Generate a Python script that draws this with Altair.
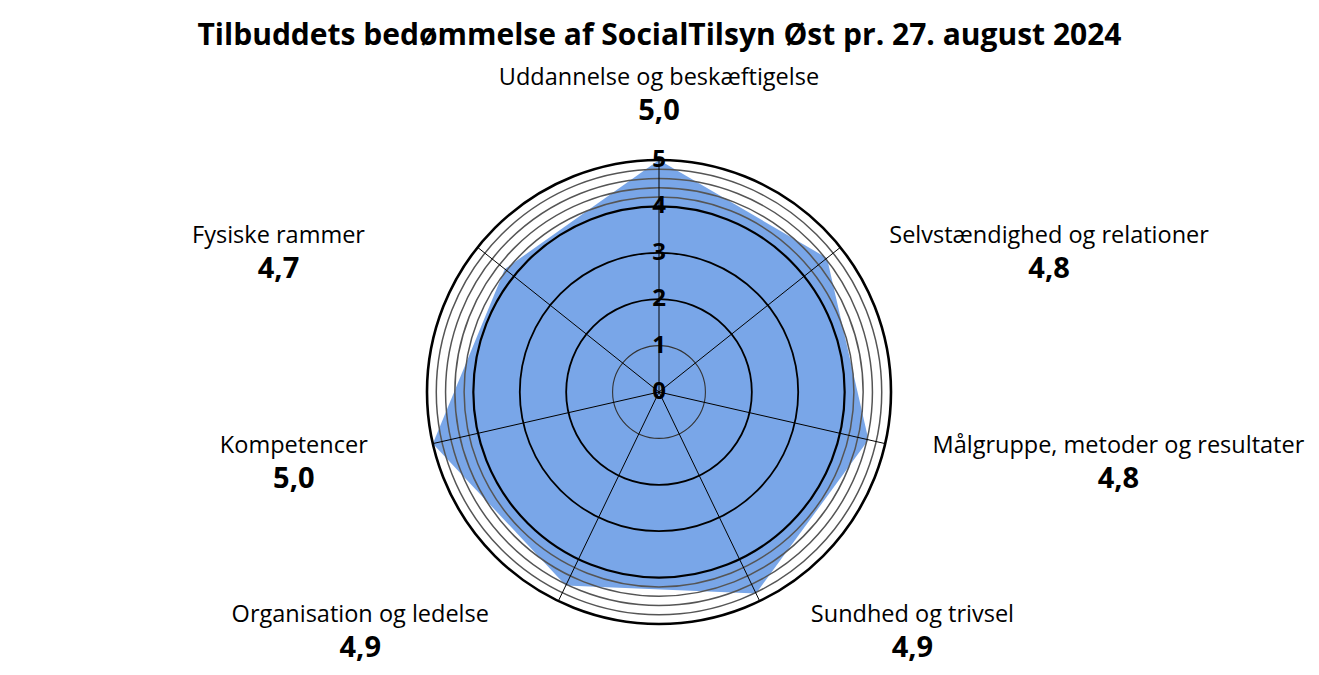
import math
import altair as alt
import pandas as pd

# ---------------- data ----------------
categories = [
    "Uddannelse og beskæftigelse",
    "Selvstændighed og relationer",
    "Målgruppe, metoder og resultater",
    "Sundhed og trivsel",
    "Organisation og ledelse",
    "Kompetencer",
    "Fysiske rammer",
]
score_labels = ["5,0", "4,8", "4,8", "4,9", "4,9", "5,0", "4,7"]
# radial extent of the shaded area as drawn in the picture
polygon_values = [5.0, 4.63, 4.63, 4.82, 4.63, 5.0, 4.25]
ring_major = [1, 2, 3, 4, 5]
ring_minor = [4.2, 4.4, 4.6, 4.8]
tick_values = [0, 1, 2, 3, 4, 5]
tick_labels = ["0", "1", "2", "3", "4", "5"]
title = "Tilbuddets bedømmelse af SocialTilsyn Øst pr. 27. august 2024"

# ---------------- layout / style ----------------
FONT = "Open Sans"
PX = 46.4              # pixels per score unit
RMAX = 5
W = 1303
PT = 55
H = 659 - PT
CXV = 651              # centre in view coords
CYV = 392 - 8 - PT
LABEL_SIZE = 23.5
VALUE_SIZE = 29
FILL = "#79a6e8"

xs = alt.Scale(domain=[-CXV / PX, (W - CXV) / PX], nice=False, zero=False)
ys = alt.Scale(domain=[-(H - CYV) / PX, CYV / PX], nice=False, zero=False)
rs = alt.Scale(type="linear", domain=[0, RMAX], range=[0, RMAX * PX], zero=True, nice=False)

n = len(categories)
ang = [2 * math.pi * i / n for i in range(n)]

# approximate Open Sans advance widths (em)
W_EM = {" ": .26, ",": .25, ".": .27, "a": .556, "b": .613, "c": .48, "d": .613, "e": .561,
        "f": .336, "g": .55, "h": .613, "i": .258, "j": .258, "k": .53, "l": .258, "m": .93,
        "n": .613, "o": .602, "p": .613, "r": .408, "s": .479, "t": .353, "u": .613, "v": .5,
        "y": .5, "æ": .86, "ø": .602, "å": .556, "U": .733, "S": .55, "M": .9, "O": .78,
        "K": .6, "F": .55}


def text_w(s, size):
    return sum(W_EM.get(ch, 0.56) for ch in s) * size


R = RMAX * PX
lab_x, lab_y, val_y = [], [], []
for i, a in enumerate(ang):
    sx, cy = math.sin(a), math.cos(a)
    if abs(sx) < 1e-6:
        cx_px = 0.0
        cb = -(R + 34 + 32) * (1 if cy > 0 else -1)
    else:
        gap = 54 if sx > 0 else 72 + 73 * max(cy, 0)
        edge = (R - 7) * abs(sx) + gap
        cx_px = math.copysign(edge + text_w(categories[i], LABEL_SIZE) / 2, sx)
        cb = -(R + 16.4) * cy + 15.2
    lab_x.append(cx_px / PX)
    lab_y.append(-(cb - 16) / PX)
    val_y.append(-(cb + 17) / PX)

poly = pd.DataFrame({
    "idx": list(range(n + 1)),
    "x": [polygon_values[i % n] * math.sin(ang[i % n]) for i in range(n + 1)],
    "y": [polygon_values[i % n] * math.cos(ang[i % n]) for i in range(n + 1)],
})
spokes = pd.DataFrame({
    "x": [0.0] * n, "y": [0.0] * n,
    "x2": [RMAX * math.sin(a) for a in ang],
    "y2": [RMAX * math.cos(a) for a in ang],
})
rings_maj = pd.DataFrame({"r": ring_major, "cx": 0.0, "cy": 0.0})
rings_min = pd.DataFrame({"r": ring_minor, "cx": 0.0, "cy": 0.0})
ticks = pd.DataFrame({"x": 0.0, "y": tick_values, "t": tick_labels})
labels = pd.DataFrame({"x": lab_x, "y": lab_y, "y2": val_y, "cat": categories, "val": score_labels})

X = lambda f: alt.X(f, scale=xs, axis=None)
Y = lambda f: alt.Y(f, scale=ys, axis=None)

area = alt.Chart(poly).mark_line(fill=FILL, strokeWidth=0, interpolate="linear-closed").encode(
    x=X("x:Q"), y=Y("y:Q"), order="idx:O")


def ring_layer(df, color, width):
    return alt.Chart(df).mark_arc(filled=False, stroke=color, strokeWidth=width,
                                  theta=0, theta2=2 * math.pi).encode(
        x=X("cx:Q"), y=Y("cy:Q"), radius=alt.Radius("r:Q", scale=rs, stack=False))


minor = ring_layer(rings_min, "#555555", 1.5)
r1 = ring_layer(rings_maj[rings_maj.r == 1], "#333333", 1.1)
r23 = ring_layer(rings_maj[(rings_maj.r > 1) & (rings_maj.r < 4)], "#000000", 1.8)
r4 = ring_layer(rings_maj[rings_maj.r == 4], "#000000", 2.2)
r5 = ring_layer(rings_maj[rings_maj.r == 5], "#000000", 2.6)

sp = alt.Chart(spokes).mark_rule(color="black", strokeWidth=1).encode(
    x=X("x:Q"), y=Y("y:Q"), x2="x2:Q", y2="y2:Q")

tk = alt.Chart(ticks).mark_text(font=FONT, fontSize=24, fontWeight="bold", baseline="alphabetic",
                                dy=7, color="black").encode(x=X("x:Q"), y=Y("y:Q"), text="t:N")

cat_t = alt.Chart(labels).mark_text(font=FONT, fontSize=LABEL_SIZE, baseline="middle",
                                    align="center", color="black").encode(
    x=X("x:Q"), y=Y("y:Q"), text="cat:N")
val_t = alt.Chart(labels).mark_text(font=FONT, fontSize=VALUE_SIZE, fontWeight="bold",
                                    baseline="middle", align="center", color="black").encode(
    x=X("x:Q"), y=Y("y2:Q"), text="val:N")

chart = alt.layer(area, minor, r1, r23, r4, r5, sp, tk, cat_t, val_t).properties(
    width=W, height=H,
    padding={"left": 0, "top": PT, "right": 0, "bottom": 0},
    autosize=alt.AutoSizeParams(type="none"),
    title=alt.TitleParams(title, font=FONT, fontSize=30, fontWeight="bold", anchor="middle",
                          frame="group", offset=12, color="black"),
).configure_view(strokeWidth=0)

chart.save("out.html", embed_options={"renderer": "svg", "actions": False})
